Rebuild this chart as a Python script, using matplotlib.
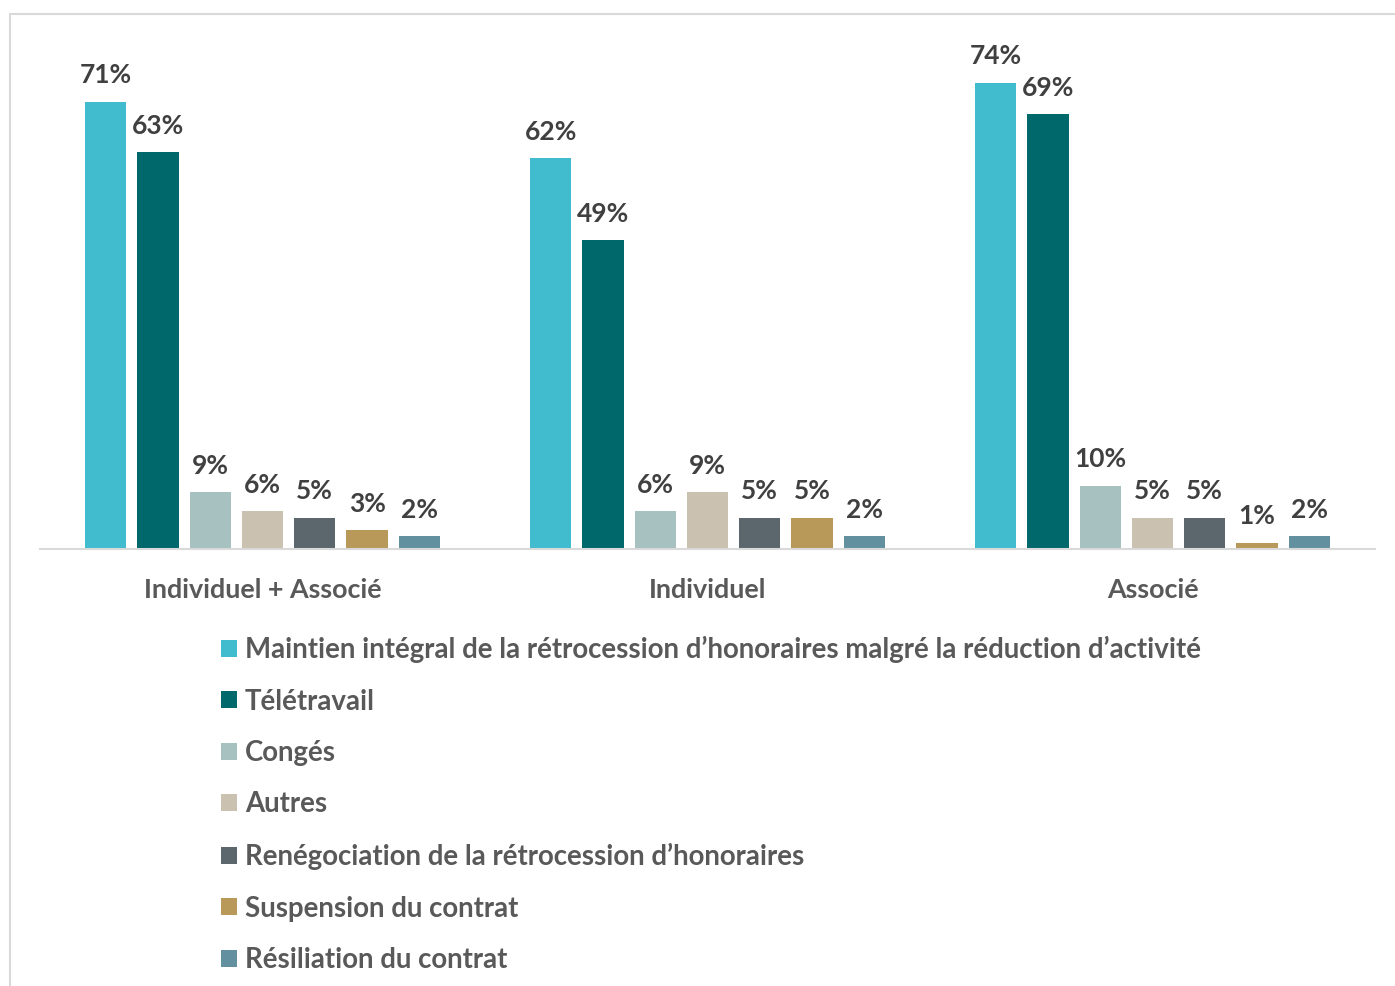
import numpy as np
import matplotlib
matplotlib.use("Agg")
import matplotlib.pyplot as plt
from matplotlib.patches import Rectangle

# Data
groups = ["Individuel + Associé", "Individuel", "Associé"]
series = [
    "Maintien intégral de la rétrocession d’honoraires malgré la réduction d’activité",
    "Télétravail",
    "Congés",
    "Autres",
    "Renégociation de la rétrocession d’honoraires",
    "Suspension du contrat",
    "Résiliation du contrat",
]
values = [
    [71, 62, 74],
    [63, 49, 69],
    [9, 6, 10],
    [6, 9, 5],
    [5, 5, 5],
    [3, 5, 1],
    [2, 2, 2],
]
colors = ["#41BBCE", "#00676B", "#A6C1C0", "#CBC1B0", "#5B676D", "#B8995A", "#63909E"]

plt.rcParams["font.family"] = ["Lato", "DejaVu Sans"]
plt.rcParams["font.weight"] = "bold"

fig = plt.figure(figsize=(13.95, 9.86), dpi=100)
W, H = 1395, 986

# light border around the chart area
fig.patches.append(Rectangle((10 / W, -0.1), 1.2, 1 - 14 / H + 0.1,
                             transform=fig.transFigure, fill=False,
                             edgecolor="#D9D9D9", linewidth=1.5))

ax = fig.add_axes([40 / W, 1 - 549 / H, 1335 / W, (549 - 45) / H])

x = np.arange(len(groups))
pitch = 0.1175
width = 0.093
handles = []
for i, (name, vals, c) in enumerate(zip(series, values, colors)):
    offs = (i - 3) * pitch
    bars = ax.bar(x + offs, vals, width, color=c, label=name)
    ax.bar_label(bars, labels=[f"{v}%" for v in vals], padding=10.5,
                 fontsize=19, fontweight="bold", color="#404040")
    handles.append(bars)

ax.set_xlim(-0.5, 2.5)
ax.set_ylim(0, 80)
ax.set_yticks([])
ax.set_xticks(x)
ax.set_xticklabels(groups, fontsize=19.4, fontweight="bold", color="#595959")
ax.tick_params(axis="x", length=0, pad=21)
for s in ["top", "right", "left"]:
    ax.spines[s].set_visible(False)
ax.spines["bottom"].set_color("#D9D9D9")
ax.spines["bottom"].set_linewidth(1.5)

fig.legend(handles=handles, loc="upper left", bbox_to_anchor=(221 / W, 1 - 636 / H),
           frameon=False, fontsize=19.9, labelcolor="#595959",
           handlelength=0.58, handleheight=0.58, handletextpad=0.29,
           labelspacing=0.92, borderpad=0, borderaxespad=0)

fig.savefig("out.png", dpi=100)
